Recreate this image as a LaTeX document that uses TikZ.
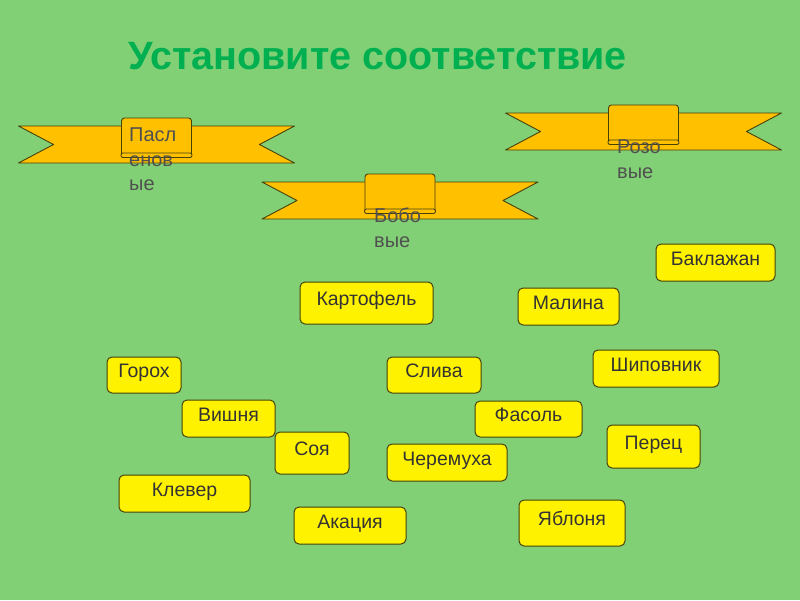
\documentclass[tikz,border=0pt]{standalone}
\usepackage{fontspec}
\setmainfont{Liberation Sans}
\usetikzlibrary{positioning}
\definecolor{slidegreen}{RGB}{130,208,118}
\definecolor{titlegreen}{RGB}{0,176,80}
\definecolor{ribbongold}{RGB}{255,192,0}
\definecolor{edgedark}{RGB}{70,66,10}
\definecolor{labelgray}{RGB}{80,80,80}

\begin{document}
\begin{tikzpicture}[x=1pt,y=-1pt,
  band/.style={draw=edgedark,fill=ribbongold,line width=0.9pt,line join=round},
  item/.style={draw=edgedark,fill=yellow,rounded corners=5pt,line width=1pt,
    font=\fontsize{19.5}{21}\selectfont,text=black!80,
    text height=14pt,text depth=8.5pt,inner sep=0pt},
  group/.style={font=\fontsize{20}{24.5}\selectfont,text=labelgray,
    align=left,inner sep=0pt,anchor=north west},
  banner/.pic={
    \path[band] (-138,0) -- (138,0) -- (103,18.5) -- (138,37) -- (-138,37)
      -- (-103,18.5) -- cycle;
    \path[band,rounded corners=3pt] (-35,-8) rectangle (35,31);
    \path[band,rounded corners=2pt] (-35.5,27) rectangle (35.5,31.5);
  }]
\useasboundingbox[fill=slidegreen] (0,0) rectangle (800,600);

\node[font=\fontsize{39.5}{44}\selectfont\bfseries,text=titlegreen,anchor=base]
  (title) at (377.5,69) {Установите соответствие};

% ribbons
\pic (bnrsol) at (156.5,126) {banner};
\pic (bnrbean) at (400,182) {banner};
\pic (bnrrose) at (643.5,113) {banner};
\node[group] (solanaceae) at (129,128) {Пасл\\енов\\ые};
\node[group] (legumes) at (374,208) {Бобо\\вые};
\node[group] (rosaceae) at (617,140) {Розо\\вые};

% words
\node[item,minimum width=119pt,minimum height=37pt] (eggplant) at (715.5,262.5) {Баклажан};
\node[item,minimum width=133pt,minimum height=42pt] (potato) at (366.5,303) {Картофель};
\node[item,minimum width=101pt,minimum height=37pt] (raspberry) at (568.5,306.5) {Малина};
\node[item,minimum width=74pt,minimum height=36pt] (pea) at (144,375) {Горох};
\node[item,minimum width=94pt,minimum height=36pt] (plum) at (434,375) {Слива};
\node[item,minimum width=126pt,minimum height=37pt] (dogrose) at (656,368.5) {Шиповник};
\node[item,minimum width=93pt,minimum height=37pt] (cherry) at (228.5,418.5) {Вишня};
\node[item,minimum width=74pt,minimum height=42pt] (soy) at (312,453) {Соя};
\node[item,minimum width=107pt,minimum height=36pt] (bean) at (528.5,419) {Фасоль};
\node[item,minimum width=120pt,minimum height=37pt] (birdcherry) at (447,462.5) {Черемуха};
\node[item,minimum width=93pt,minimum height=43pt] (pepper) at (653.5,446.5) {Перец};
\node[item,minimum width=131pt,minimum height=37pt] (clover) at (184.5,493.5) {Клевер};
\node[item,minimum width=112pt,minimum height=37pt] (acacia) at (350,525.5) {Акация};
\node[item,minimum width=106pt,minimum height=46pt] (apple) at (572,523) {Яблоня};
\end{tikzpicture}
\end{document}
